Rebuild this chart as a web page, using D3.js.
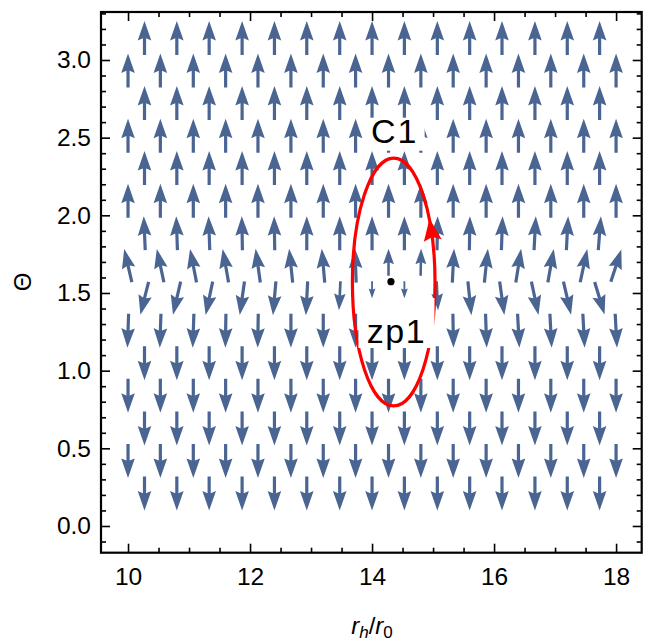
<!DOCTYPE html>
<html><head><meta charset="utf-8">
<script src="https://cdn.jsdelivr.net/npm/d3@7"></script>
<style>body{margin:0;background:#fff}svg{display:block}</style>
</head><body>
<svg id="c" width="648" height="644"></svg>
<script>
// ---------- data ----------
const rowTheta = [3.142,2.932,2.723,2.513,2.304,2.094,1.885,1.676,1.466,1.257,1.047,0.838,0.628,0.419,0.209];
const rowDir   = ["up","up","up","up","up","up","up","up","down","down","down","down","down","down","down"];
const colsEven = [10.27,10.80,11.33,11.87,12.40,12.93,13.47,14.00,14.53,15.07,15.60,16.13,16.67,17.20,17.73];
const colsOdd  = [10.00,10.53,11.07,11.60,12.13,12.67,13.20,13.73,14.27,14.80,15.33,15.87,16.40,16.93,17.47,18.00];
// arrow tilt (degrees, + = x-component to the right), rows not listed are straight
const tiltRow6 = [-2.5,-2,-2,-1,-1,0,0,0,0,1,1,2,3,3,4.5];
const tiltRow7 = [-13,-12,-11,-10,-8,-6,-5,-2,0,1,3,6,9,10,12,18];
const tiltRow8 = [-14,-13,-12,-8,-5,-3,-3,0,0,3,6,8,12,13,17];
const tiltRow9 = [-2,-2,-2,-1,-1,0,0,0,0,0,1,2,3,3,3,3];
// shortened arrows near the zero point: [row, col, length factor]
const shortArrows = [[7,8,0.8],[7,9,0.8],[8,6,0.85],[8,7,0.5],[8,8,0.5],[8,9,0.85]];

const contourCenter = [14.355, 1.5708];
const contourRadii  = [0.677, 0.798];
const zeroPoint     = [14.31, 1.573];
const labelText     = ["C1","zp1"];
const labelPos      = [[14.37, 2.545],[14.40, 1.255]];

const xMajor = [10,12,14,16,18];
const xMinor = [10.5,11,11.5,12.5,13,13.5,14.5,15,15.5,16.5,17,17.5];
const yMajor = [0,0.5,1,1.5,2,2.5,3];
const yMinor = [-0.1,0.1,0.2,0.3,0.4,0.6,0.7,0.8,0.9,1.1,1.2,1.3,1.4,1.6,1.7,1.8,1.9,2.1,2.2,2.3,2.4,2.6,2.7,2.8,2.9,3.1,3.2,3.3];

// ---------- layout ----------
const L = 101, R = 641.7, T = 12, B = 552.7;
const x = d3.scaleLinear().domain([9.557, 18.42]).range([L, R]);
const y = d3.scaleLinear().domain([-0.172, 3.309]).range([B, T]);
const FONT = "'Liberation Sans', Arial, sans-serif";
const ARROW = "#4a6592";

const svg = d3.select("#c");
svg.append("rect").attr("width",648).attr("height",644).attr("fill","#fff");

// ---------- arrows ----------
const tilts = {6: tiltRow6, 7: tiltRow7, 8: tiltRow8, 9: tiltRow9};
const arrows = [];
rowTheta.forEach((th, r) => {
  const cols = r % 2 === 0 ? colsEven : colsOdd;
  cols.forEach((cx, c) => {
    const t = tilts[r] ? tilts[r][c] : 0;
    const sa = shortArrows.find(a => a[0] === r && a[1] === c);
    arrows.push({x: cx, y: th, dir: rowDir[r], tilt: t, s: sa ? sa[2] : 1});
  });
});
const LEN = 34;
function arrowPath(s) {
  const len = LEN * s, hl = 19.5 * s, hw = 6.8 * s, sw = Math.max(1.6 * s, 0.9), notch = 2.2 * s;
  const t = -len / 2, b = len / 2, hb = t + hl;
  return `M0,${t}L${hw},${hb}L${sw},${hb - notch}L${sw},${b}L${-sw},${b}L${-sw},${hb - notch}L${-hw},${hb}Z`;
}
svg.append("g").selectAll("path").data(arrows).join("path")
  .attr("d", d => arrowPath(d.s))
  .attr("fill", ARROW)
  .attr("transform", d => {
    const px = x(d.x);
    // shortened arrows keep the upper end of a full-length arrow
    const py = y(d.y) - (1 - d.s) * LEN / 2;
    const ang = d.dir === "up" ? d.tilt : 180 - d.tilt;
    return `translate(${px},${py}) rotate(${ang})`;
  });

// ---------- contour ----------
const ecx = x(contourCenter[0]), ecy = y(contourCenter[1]);
const erx = x(contourCenter[0] + contourRadii[0]) - ecx;
const ery = ecy - y(contourCenter[1] + contourRadii[1]);
svg.append("ellipse").attr("cx", ecx).attr("cy", ecy).attr("rx", erx).attr("ry", ery)
  .attr("fill", "none").attr("stroke", "#ff0000").attr("stroke-width", 3.2);
// arrow head on the contour (counter-clockwise direction)
{
  const a = 24 * Math.PI / 180;
  const px = ecx + erx * Math.cos(a), py = ecy - ery * Math.sin(a);
  const dx = -erx * Math.sin(a), dy = -ery * Math.cos(a);
  const ang = Math.atan2(dy, dx) * 180 / Math.PI + 90;
  svg.append("path").attr("d", "M0,-13L9,9L0,5.5L-9,9Z").attr("fill", "#ff0000")
    .attr("transform", `translate(${px},${py}) rotate(${ang})`);
}
svg.append("circle").attr("cx", x(zeroPoint[0])).attr("cy", y(zeroPoint[1])).attr("r", 3.6).attr("fill", "#000");

// ---------- labels with white background ----------
const boxes = [[60, 33], [76, 50]];
labelText.forEach((txt, i) => {
  const px = x(labelPos[i][0]), py = y(labelPos[i][1]);
  const g = svg.append("g");
  const w = boxes[i][0], h = boxes[i][1];
  g.append("rect").attr("x", px - w / 2).attr("y", py - (i === 0 ? 13 : 33)).attr("width", w).attr("height", h).attr("fill", "#fff");
  g.append("text").attr("x", px).attr("y", py + 12).attr("text-anchor", "middle")
    .attr("font-family", FONT).attr("font-size", 34).attr("letter-spacing", i === 0 ? 2 : 1.5).text(txt);
});

// ---------- frame and ticks ----------
function tickAxis(axisFn, scale, major, minor, translate, labels, pad) {
  const gMaj = svg.append("g").attr("transform", translate)
    .call(axisFn(scale).tickValues(major).tickSizeInner(-9).tickSizeOuter(0).tickPadding(pad)
      .tickFormat(labels ? labels : () => ""));
  const gMin = svg.append("g").attr("transform", translate)
    .call(axisFn(scale).tickValues(minor).tickSizeInner(-5).tickSizeOuter(0).tickFormat(() => ""));
  [gMaj, gMin].forEach(g => {
    g.select(".domain").remove();
    g.selectAll("line").attr("stroke", "#000").attr("stroke-width", 1.6);
    g.selectAll("text").attr("font-family", FONT).attr("font-size", 24.5).attr("fill", "#000");
  });
}
tickAxis(d3.axisBottom, x, xMajor, xMinor, `translate(0,${B})`, d3.format("d"), 15);
tickAxis(d3.axisTop, x, xMajor, xMinor, `translate(0,${T})`, null, 3);
tickAxis(d3.axisLeft, y, yMajor, yMinor, `translate(${L},0)`, d3.format(".1f"), 10);
tickAxis(d3.axisRight, y, yMajor, yMinor, `translate(${R},0)`, null, 3);

svg.append("rect").attr("x", L).attr("y", T).attr("width", R - L).attr("height", B - T)
  .attr("fill", "none").attr("stroke", "#000").attr("stroke-width", 2.2);

// axis titles
const xt = svg.append("text").attr("x", 372).attr("y", 634).attr("text-anchor", "middle")
  .attr("font-family", FONT).attr("font-size", 24);
xt.append("tspan").attr("font-style", "italic").text("r");
xt.append("tspan").attr("font-style", "italic").attr("font-size", 17).attr("dy", 4).text("h");
xt.append("tspan").attr("dy", -4).text("/");
xt.append("tspan").attr("font-style", "italic").text("r");
xt.append("tspan").attr("font-size", 17).attr("dy", 4).text("0");

svg.append("text").attr("transform", "translate(23,282) rotate(-90)").attr("text-anchor", "middle")
  .attr("dy", "0.35em").attr("font-family", FONT).attr("font-size", 24).text("Θ");
</script>
</body></html>
